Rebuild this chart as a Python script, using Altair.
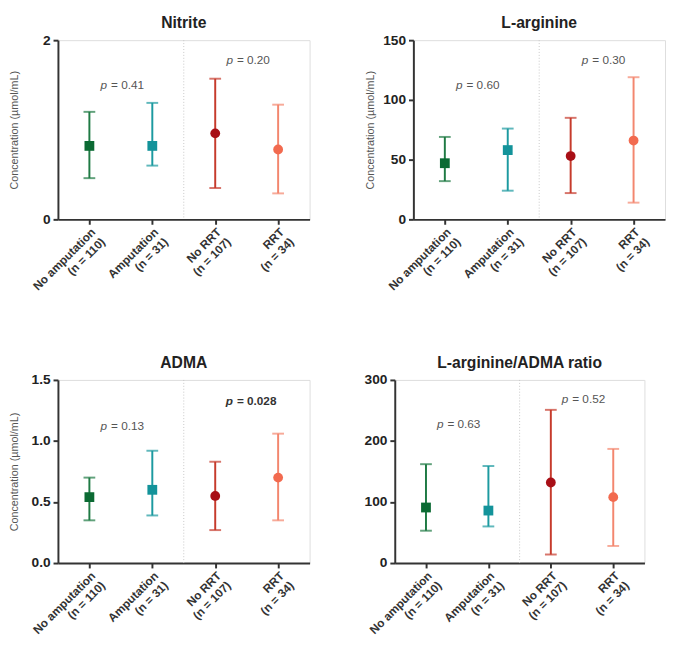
import json
import altair as alt
import pandas as pd

# ---------------- data ----------------
categories = ["No amputation", "Amputation", "No RRT", "RRT"]
n_labels = ["(n = 110)", "(n = 31)", "(n = 107)", "(n = 34)"]
cat_index = [1, 2, 3, 4]
separator_at = [2.5]
p_x = [1.5, 3.5]

titles = ["Nitrite", "L-arginine", "ADMA", "L-arginine/ADMA ratio"]
y_max = [2, 150, 1.5, 300]
y_ticks = [[0, 1, 2], [0, 50, 100, 150], [0, 0.5, 1.0, 1.5], [0, 100, 200, 300]]
y_formats = ["d", "d", ".1f", "d"]

nitrite_mean = [0.82, 0.82, 0.96, 0.78]
nitrite_lo = [0.46, 0.60, 0.35, 0.29]
nitrite_hi = [1.20, 1.30, 1.57, 1.28]

larg_mean = [47, 58, 53, 66]
larg_lo = [32, 24, 22, 14]
larg_hi = [69, 76, 85, 119]

adma_mean = [0.54, 0.60, 0.55, 0.70]
adma_lo = [0.35, 0.39, 0.27, 0.35]
adma_hi = [0.70, 0.92, 0.83, 1.06]

ratio_mean = [91, 86, 132, 108]
ratio_lo = [53, 60, 14, 28]
ratio_hi = [162, 159, 251, 187]

means = [nitrite_mean, larg_mean, adma_mean, ratio_mean]
lows = [nitrite_lo, larg_lo, adma_lo, ratio_lo]
highs = [nitrite_hi, larg_hi, adma_hi, ratio_hi]

p_values = [["0.41", "0.20"], ["0.60", "0.30"], ["0.13", "0.028"], ["0.63", "0.52"]]
p_heights = [[1.50, 1.78], [112, 133], [1.12, 1.33], [227, 268]]
p_bold = [[False, False], [False, False], [False, True], [False, False]]

# ---------------- styles ----------------
FONT = "Liberation Sans"
line_colors = ["#1f7a44", "#1c9aa0", "#c63b2c", "#f3866e"]
marker_colors = ["#0b6a33", "#13939a", "#a80f16", "#f26a4f"]
shapes = ["square", "square", "circle", "circle"]
DARK = "#333333"

label_expr = json.dumps([[c, n] for c, n in zip(categories, n_labels)]) + "[datum.value - 1]"
X_SCALE = alt.Scale(domain=[0.5, 4.5], nice=False, zero=False)


def make_panel(k, show_ytitle, width, height):
    df = pd.DataFrame({"idx": cat_index, "cat": categories,
                       "mean": means[k], "lo": lows[k], "hi": highs[k]})

    def X(field):
        return alt.X(
            field,
            scale=X_SCALE,
            axis=alt.Axis(values=cat_index, labelExpr=label_expr, title=None,
                          grid=False, labelAngle=-45, labelAlign="right",
                          labelBaseline="top", labelFontSize=12,
                          labelFontWeight="bold", labelColor=DARK,
                          labelOverlap=False, labelFlush=False,
                          labelPadding=2, labelLineHeight=14,
                          tickSize=5, tickWidth=2, tickColor=DARK,
                          domainWidth=2, domainColor=DARK, labelFont=FONT),
        )

    def Y(field):
        ax = dict(values=y_ticks[k], format=y_formats[k], grid=False,
                  labelFontSize=14, labelFontWeight="bold", labelColor="#222222",
                  labelFont=FONT, tickSize=5, tickWidth=2, tickColor=DARK,
                  domainWidth=2, domainColor=DARK, minExtent=32, maxExtent=32,
                  titleFontSize=11, titleFontWeight="normal", titleColor="#555555",
                  titleFont=FONT, titlePadding=7, labelPadding=3)
        title = "Concentration (µmol/mL)" if show_ytitle else None
        return alt.Y(field, scale=alt.Scale(domain=[0, y_max[k]], nice=False),
                     axis=alt.Axis(**ax), title=title)

    color_scale = alt.Scale(domain=categories, range=line_colors)
    fill_scale = alt.Scale(domain=categories, range=marker_colors)
    shape_scale = alt.Scale(domain=categories, range=shapes)

    base = alt.Chart(df)

    sep = alt.Chart(pd.DataFrame({"s": separator_at})).mark_rule(
        color="#c8c8c8", strokeDash=[1, 2], strokeWidth=1
    ).encode(x=X("s:Q"))

    bars = base.mark_rule(strokeWidth=2).encode(
        x=X("idx:Q"), y=Y("lo:Q"), y2="hi:Q",
        color=alt.Color("cat:N", scale=color_scale, legend=None))
    cap_lo = base.mark_tick(orient="horizontal", size=12, thickness=2).encode(
        x=X("idx:Q"), y=Y("lo:Q"), color=alt.Color("cat:N", scale=color_scale, legend=None))
    cap_hi = base.mark_tick(orient="horizontal", size=12, thickness=2).encode(
        x=X("idx:Q"), y=Y("hi:Q"), color=alt.Color("cat:N", scale=color_scale, legend=None))
    pts = base.mark_point(filled=True, size=100, opacity=1, strokeWidth=0).encode(
        x=X("idx:Q"), y=Y("mean:Q"),
        fill=alt.Fill("cat:N", scale=fill_scale, legend=None),
        shape=alt.Shape("cat:N", scale=shape_scale, legend=None))

    layers = [sep, bars, cap_lo, cap_hi, pts]
    for j in range(2):
        tdf = pd.DataFrame({"x": [p_x[j]], "y": [p_heights[k][j]],
                            "p": ["p"], "t": ["= " + p_values[k][j]]})
        weight = "bold" if p_bold[k][j] else "normal"
        col = "#333333" if p_bold[k][j] else "#555555"
        tb = alt.Chart(tdf)
        layers.append(tb.mark_text(font=FONT, fontSize=12, fontStyle="italic",
                                   fontWeight=weight, color=col, align="right",
                                   baseline="middle", dx=-14).encode(
            x=X("x:Q"), y=Y("y:Q"), text="p:N"))
        layers.append(tb.mark_text(font=FONT, fontSize=12, fontWeight=weight,
                                   color=col, align="left", baseline="middle",
                                   dx=-10).encode(
            x=X("x:Q"), y=Y("y:Q"), text="t:N"))

    return alt.layer(*layers).properties(
        width=width, height=height,
        title=alt.TitleParams(titles[k], fontSize=16, fontWeight="bold",
                              color="#222222", font=FONT, frame="group",
                              anchor="middle", offset=2))


p0 = make_panel(0, True, 257, 183)
p1 = make_panel(1, True, 257, 183)
p2 = make_panel(2, True, 257, 187)
p3 = make_panel(3, False, 255, 187)

chart = alt.vconcat(
    alt.hconcat(p0, p1, spacing=54),
    alt.hconcat(p2, p3, spacing=53),
    spacing=53,
).properties(padding=0).configure_view(stroke=None).configure(font=FONT)

chart.save("out.html", embed_options={"renderer": "svg", "actions": False})
